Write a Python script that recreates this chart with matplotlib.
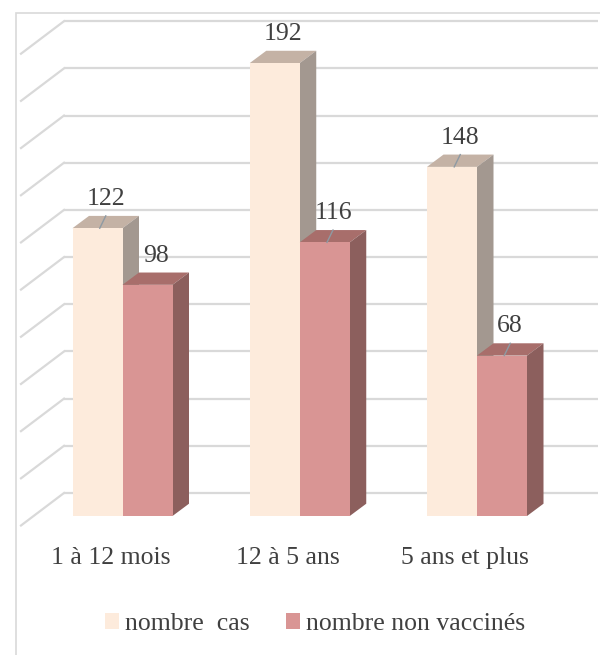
import matplotlib
matplotlib.use("Agg")
import matplotlib.pyplot as plt
from matplotlib.patches import Polygon, Rectangle
import numpy as np

# data
categories = ["1 à 12 mois", "12 à 5 ans", "5 ans et plus"]
nombre_cas = [122, 192, 148]
non_vaccines = [98, 116, 68]
series_names = ["nombre  cas", "nombre non vaccinés"]
yticks = list(range(0, 201, 20))

# colours (front, top, side)
cream = ("#fdebdc", "#c4b2a5", "#a39890")
pink = ("#d99594", "#a86e6b", "#8c5f5d")
grid_col = "#d9d9d9"
text_col = "#404040"
leader_col = "#8e9aa3"

plt.rcParams['font.family'] = ['Liberation Serif', 'DejaVu Serif']

# pixel scale of the reference
PX_X = 177.25   # px per category
PX_Y = 2.359    # px per unit of value

def ux(px):
    return px / PX_X

def uy(px):
    return px / PX_Y

fig = plt.figure(figsize=(6, 6.55), dpi=100)
ax = fig.add_axes([0, 0, 1, 1])
ax.set_xlim(ux(0 - 122.5), ux(600 - 122.5))
ax.set_ylim(uy(516 - 655), uy(516))
ax.axis("off")

# outer chart border
fig.add_artist(Rectangle((16 / 600, -0.02), 1.0, 1 - 13 / 655 + 0.02,
                         transform=fig.transFigure, fill=False,
                         edgecolor=grid_col, lw=1.2))

# back wall gridlines + left wall diagonals
wall_dy = uy(23)
xb_left = ux(64 - 122.5)
xb_right = ux(598 - 122.5)
xf_left = ux(21 - 122.5)
for v in yticks:
    yb = v + wall_dy
    ax.plot([xb_left, xb_right], [yb, yb], color=grid_col, lw=1.6, zorder=1,
            solid_capstyle="butt")
    ax.plot([xf_left, xb_left], [yb - uy(32.5), yb], color=grid_col, lw=1.6,
            zorder=1)

x = np.arange(len(categories))
w = ux(50)
ddx = ux(16.5)
ddy = uy(12.3)

def draw_series(xc, values, cols, z, leaders):
    bars = ax.bar(xc, values, width=w, color=cols[0], lw=0, zorder=z + 2)
    for xi, h, lead in zip(xc, values, leaders):
        x0, x1 = xi - w / 2, xi + w / 2
        ax.add_patch(Polygon([(x0, h), (x1, h), (x1 + ddx, h + ddy),
                              (x0 + ddx, h + ddy)], closed=True,
                             facecolor=cols[1], lw=0, zorder=z + 1))
        ax.add_patch(Polygon([(x1, 0), (x1 + ddx, ddy), (x1 + ddx, h + ddy),
                              (x1, h)], closed=True,
                             facecolor=cols[2], lw=0, zorder=z + 1))
        lx = xi + ddx / 2
        ly = h + ddy / 2 + uy(23)
        ax.text(lx, ly, str(h), ha="center", va="center", fontsize=18.5,
                color=text_col, zorder=20)
        if lead:
            ax.plot([lx, lx - ux(6)], [h + ddy, h], color=leader_col, lw=1,
                    zorder=z + 3)
    return bars

b1 = draw_series(x - w / 2, nombre_cas, cream, 2, [True, False, True])
b2 = draw_series(x + w / 2, non_vaccines, pink, 6, [False, True, True])

for xi, lab in zip(x, categories):
    ax.text(xi - ux(12), uy(-(558 - 516)), lab, ha="center", va="center",
            fontsize=18.5, color=text_col)

fig.legend([b1, b2], series_names, loc="center",
           bbox_to_anchor=(315 / 600, 1 - 624 / 655), ncol=2, frameon=False,
           fontsize=18.5, handlelength=0.55, handleheight=0.55,
           handletextpad=0.25, columnspacing=1.4, labelcolor=text_col)

fig.savefig("out.png", dpi=100)
